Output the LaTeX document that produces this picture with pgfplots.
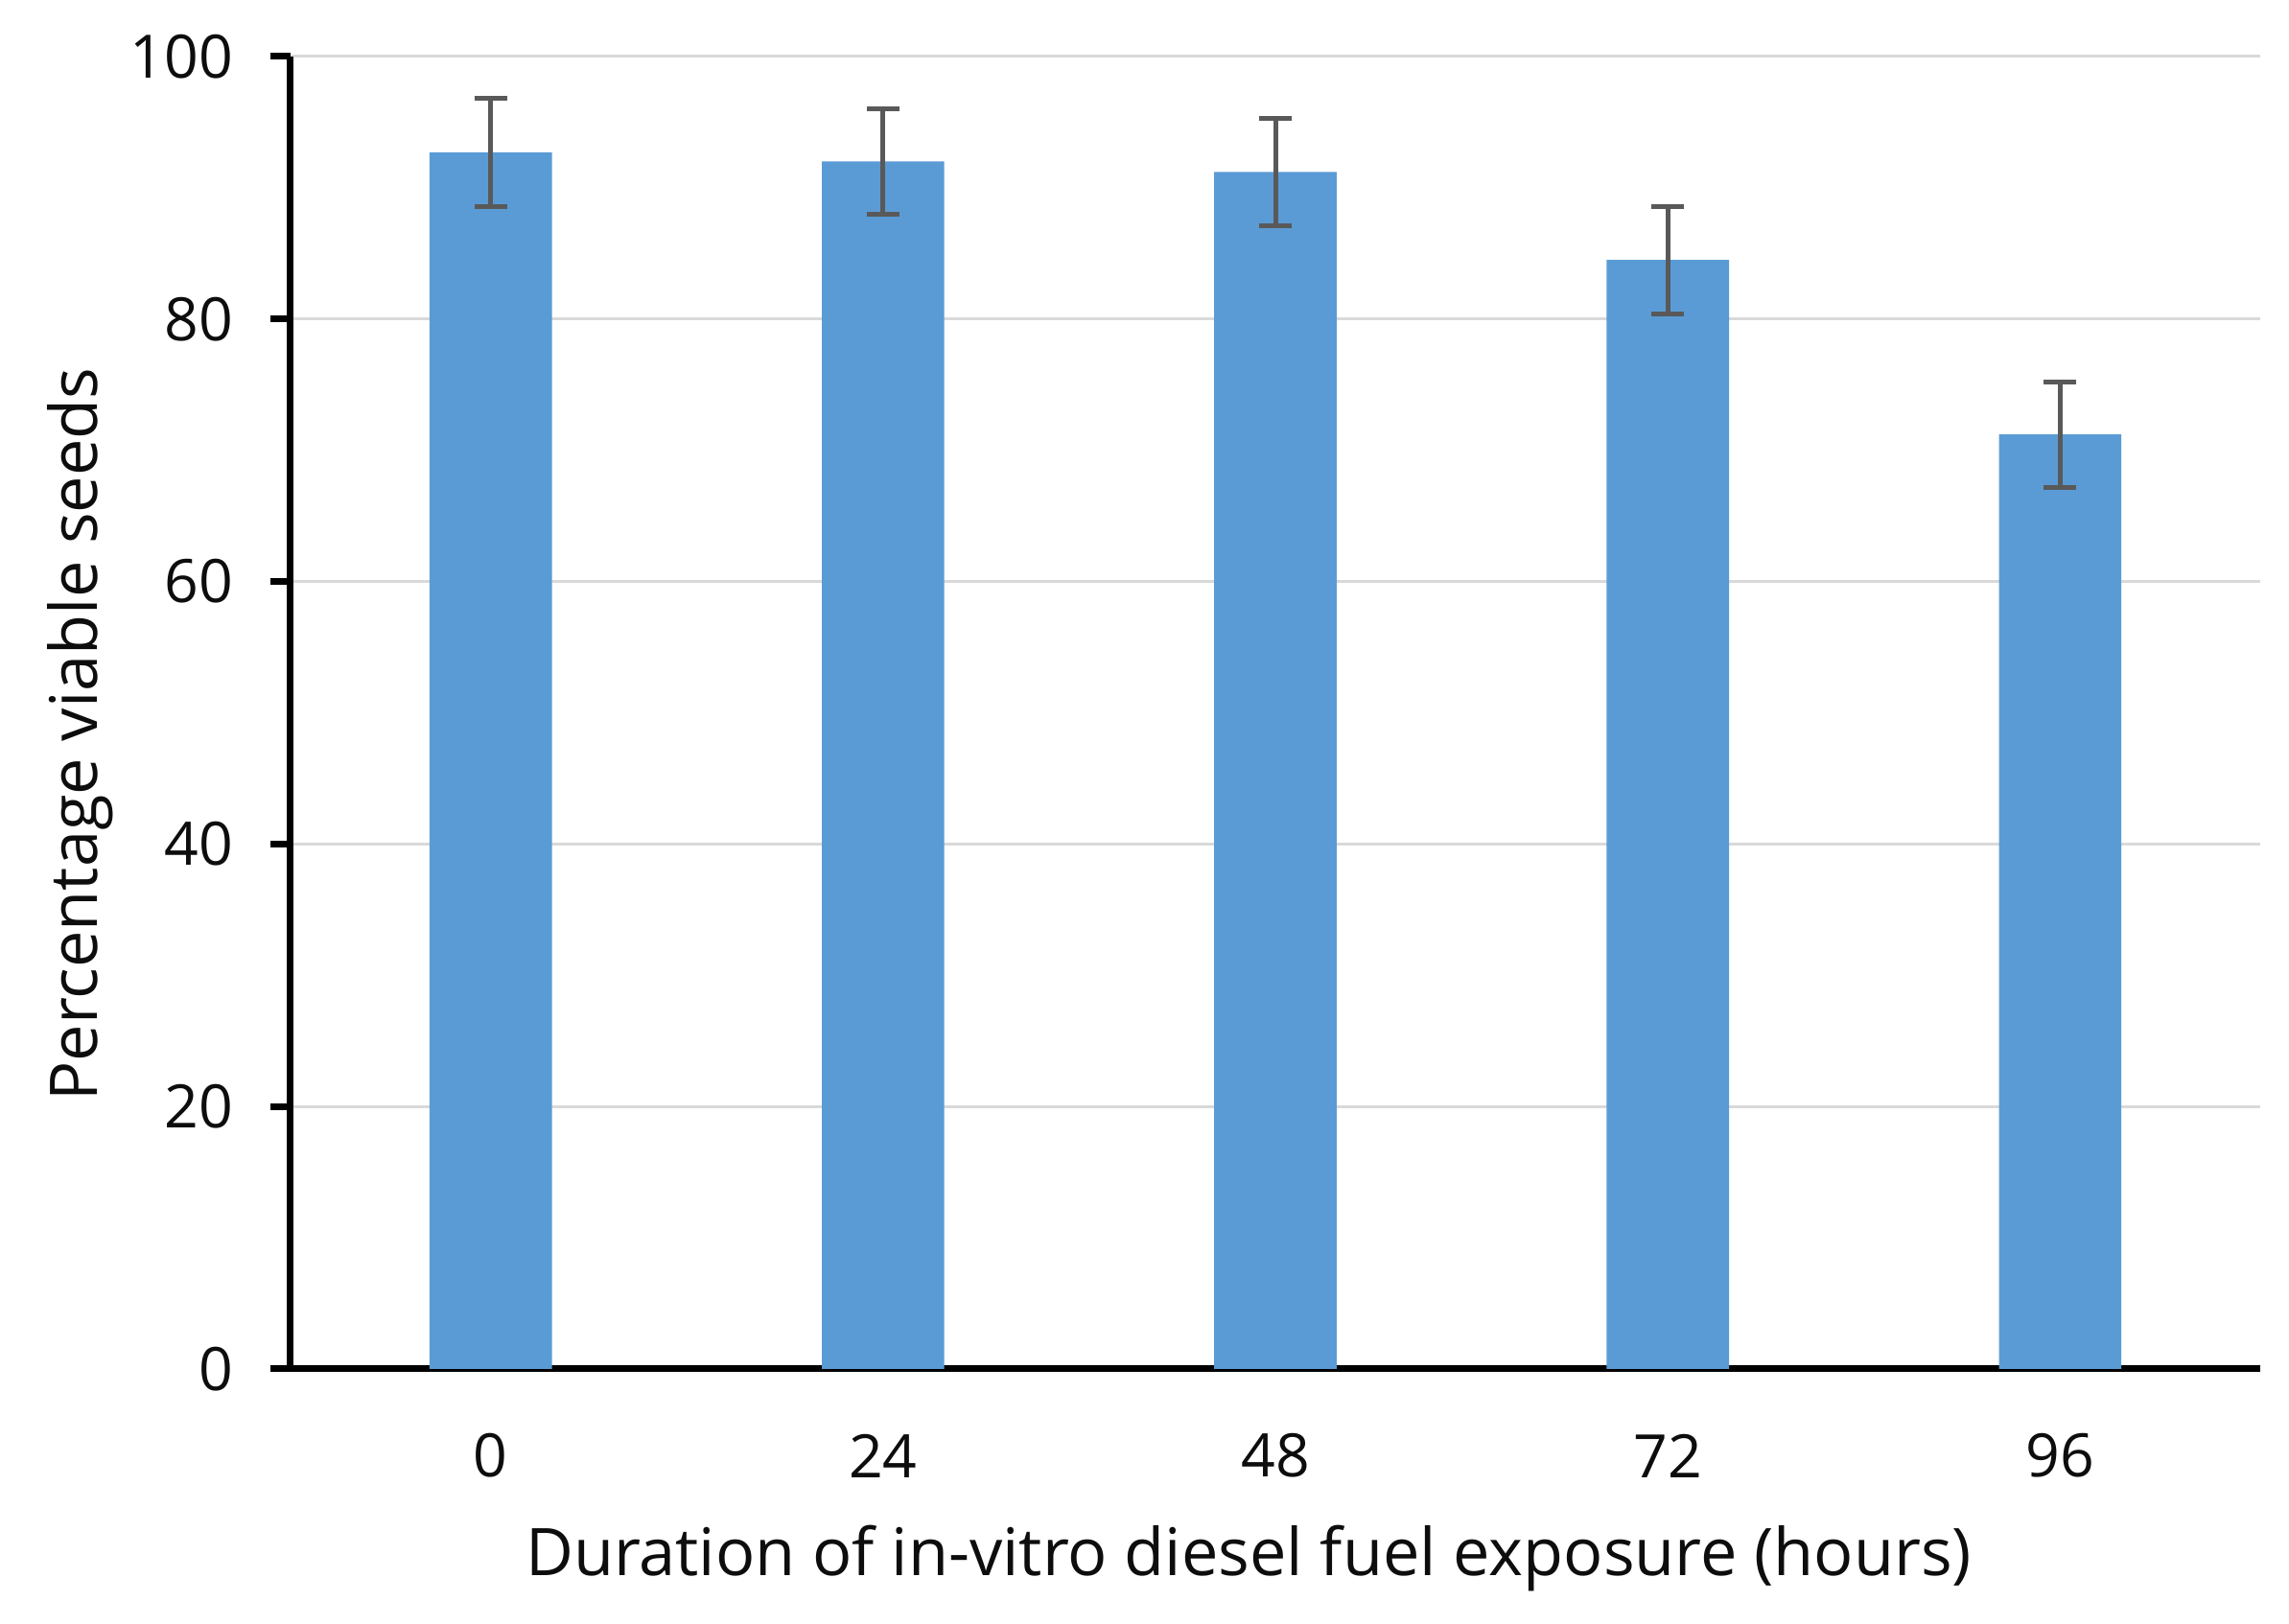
\documentclass[border=0pt]{standalone}
\usepackage{fontspec}
\setmainfont{Open Sans}
\usepackage{pgfplots}
\pgfplotsset{compat=1.18}
\definecolor{barblue}{HTML}{5B9BD5}
\definecolor{errgray}{HTML}{595959}
\definecolor{gridgray}{HTML}{D9D9D9}
\begin{document}
\begin{tikzpicture}
\path[use as bounding box] (0,0) rectangle (477.4pt,338.8pt);
\begin{axis}[
  at={(60.6pt,53.2pt)}, anchor=south west,
  scale only axis,
  width=410.8pt, height=273.8pt,
  xmin=-0.51, xmax=4.51,
  ymin=0, ymax=100,
  ytick={0,20,...,100},
  xtick={0,1,2,3,4},
  xticklabels={0,24,48,72,96},
  axis x line=bottom, axis y line=left,
  axis line style={line width=1.4pt, -},
  x axis line style={-}, y axis line style={-},
  major x tick style={draw=none},
  ytick style={line width=1.4pt, black},
  tick align=outside,
  major tick length=4.2pt,
  ymajorgrids,
  grid style={gridgray, line width=0.6pt},
  /pgf/number format/assume math mode=true,
  tick label style={font=\fontsize{12.5}{14}\selectfont, text=black!95},
  xticklabel style={anchor=center, yshift=-13.9pt},
  yticklabel style={xshift=-4.3pt},
  label style={font=\fontsize{13.7}{16}\selectfont, text=black!95},
  xlabel={Duration of in-vitro diesel fuel exposure (hours)},
  ylabel={Percentage viable seeds},
  xlabel style={at={(axis description cs:0.4864,-0.1443)}, anchor=center},
  ylabel style={at={(axis description cs:-0.1069,0.4836)}, anchor=center},
  ybar, bar width=0.312,
  bar shift=0pt,
  clip=false,
]
\addplot[fill=barblue, draw=none,
  error bars/.cd, y dir=both, y explicit,
  error bar style={errgray, line width=1pt},
  error mark options={errgray, line width=1pt, mark size=3.4pt, rotate=90}]
  coordinates {
  (0,92.7) +- (0,4.1)
  (1,92.0) +- (0,4.0)
  (2,91.2) +- (0,4.1)
  (3,84.5) +- (0,4.1)
  (4,71.2) +- (0,4.0)
};
\end{axis}
\end{tikzpicture}
\end{document}
